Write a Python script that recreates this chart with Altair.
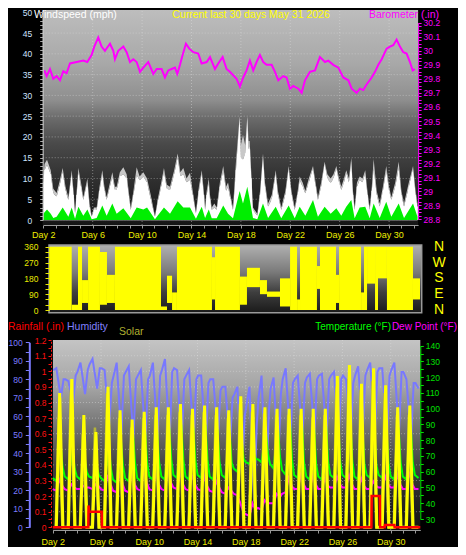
import altair as alt
import pandas as pd

W, H = 450, 539
FONT = "Liberation Sans"

# ------------------------------------------------------------------ data
DAYS = list(range(2, 33))          # day numbers shown on the time axis
DAY_TICKS = list(range(2, 33))

# Panel 1 - windspeed (mph): (day, wind speed, gust)
WIND = [(2.0, 9, 10), (2.1, 12, 13.5), (2.3, 13.3, 14.5), (2.6, 11, 12), (2.81, 6.4, 7.5), (3.08, 5.6, 6.5),
        (3.3, 8, 9), (3.57, 11.7, 12.5), (3.8, 7, 8), (4.03, 4.8, 5.5), (4.3, 11.3, 12), (4.45, 6, 7),
        (4.57, 1.6, 2), (4.7, 6, 7), (4.84, 11.7, 12.5), (5.05, 8, 9), (5.24, 4.8, 5.5), (5.57, 9.3, 10),
        (5.75, 3, 4), (5.92, 0.8, 1), (6.1, 2.4, 3), (6.32, 2.4, 3), (6.55, 7, 8), (6.78, 11.3, 12),
        (6.95, 7, 8), (7.13, 4.8, 5.5), (7.59, 10.5, 11.5), (7.8, 7.2, 8), (7.94, 7.2, 8), (8.2, 10.5, 11.5),
        (8.48, 11, 12.7), (8.75, 10, 11), (9.08, 2.4, 3), (9.3, 6, 7), (9.56, 10.9, 12.7), (9.8, 9.5, 10.5),
        (10.1, 10.5, 11.5), (10.4, 9, 10), (10.7, 5, 6), (11.04, 0.8, 1), (11.3, 4.8, 5.5), (11.55, 8, 9),
        (11.77, 11.7, 12.5), (12.0, 7.5, 8.5), (12.26, 7.2, 8), (12.6, 11, 12), (12.88, 15, 16),
        (13.1, 10.5, 11.5), (13.34, 11, 12.5), (13.6, 9, 10), (13.88, 9.7, 11.4), (14.1, 6, 7), (14.36, 1.6, 2),
        (14.6, 7, 8), (14.83, 11.3, 12), (15.0, 6, 7), (15.1, 2.4, 3), (15.23, 6, 7), (15.4, 9, 10),
        (15.5, 5, 6), (15.64, 2.4, 3), (15.85, 3, 4), (16.04, 2.4, 3), (16.3, 8, 9), (16.57, 12, 13),
        (16.8, 7, 8), (16.96, 8, 9), (17.15, 5, 6), (17.36, 2.4, 3), (17.6, 12, 14), (17.9, 25, 25),
        (18.0, 15, 18), (18.17, 14.5, 20.5), (18.35, 16, 18), (18.52, 25, 25), (18.62, 17, 19), (18.71, 18, 19),
        (18.85, 10, 11), (18.98, 2.4, 3), (19.33, 1, 1.5), (19.55, 6, 7), (19.79, 15.7, 16), (19.95, 8, 9),
        (20.2, 3.2, 4), (20.5, 5, 6), (20.82, 11.3, 12), (21.0, 6, 7), (21.27, 2.4, 3), (21.6, 6, 7),
        (21.87, 12.5, 13), (22.1, 6, 7), (22.36, 2.4, 3), (22.6, 6, 7), (22.76, 9.7, 10.5), (23.0, 8, 9),
        (23.22, 6.4, 7), (23.5, 9, 10), (23.84, 12.5, 13), (24.05, 8, 9), (24.24, 4.8, 5.5), (24.5, 8, 9),
        (24.78, 13.7, 14), (25.0, 10, 11), (25.27, 8.9, 10), (25.5, 10, 11), (25.73, 12.5, 13), (25.95, 9, 10),
        (26.13, 7.2, 8), (26.35, 9, 10), (26.53, 11.3, 12), (26.75, 9, 10), (26.94, 14.5, 15), (27.08, 6, 7),
        (27.21, 2.4, 3), (27.4, 8, 9), (27.62, 9.7, 10.5), (27.85, 9, 10), (28.07, 11.3, 12), (28.25, 6, 7),
        (28.43, 2.4, 3), (28.6, 7, 8), (28.75, 12.5, 14.7), (29.0, 6, 7), (29.24, 3.2, 4), (29.5, 7, 8),
        (29.77, 12, 13), (30.0, 7, 8), (30.18, 4.8, 5.5), (30.5, 8, 9), (30.78, 12.5, 14), (31.0, 6, 7),
        (31.21, 3.2, 4), (31.6, 8, 9), (31.94, 12.5, 13), (32.15, 6, 7), (32.3, 3.2, 4)]

# Panel 1 - average windspeed (mph): (day, value)
AVG = [(2.0, 1.5), (2.3, 2.5), (2.6, 1.5), (2.81, 0.5), (3.08, 0.8), (3.57, 3.0), (4.03, 0.8), (4.3, 3.0),
       (4.57, 0.3), (4.84, 3.2), (5.24, 1.0), (5.57, 2.5), (5.92, 0.2), (6.32, 0.5), (6.78, 3.5), (7.13, 1.0),
       (7.59, 4.0), (7.94, 1.5), (8.48, 2.8), (9.08, 0.4), (9.56, 3.0), (10.1, 2.5), (10.4, 3.0), (11.04, 0.2),
       (11.77, 3.0), (12.26, 1.5), (12.88, 4.5), (13.34, 3.0), (13.88, 3.0), (14.36, 0.3), (14.83, 3.2),
       (15.1, 0.5), (15.4, 2.5), (15.64, 0.4), (16.04, 0.4), (16.57, 3.5), (16.96, 1.5), (17.36, 0.4),
       (17.9, 7.0), (18.17, 4.0), (18.52, 8.0), (18.71, 5.0), (18.98, 0.5), (19.33, 0.2), (19.79, 4.0),
       (20.2, 0.5), (20.82, 3.2), (21.27, 0.4), (21.87, 3.5), (22.36, 0.4), (22.76, 3.2), (23.22, 1.0),
       (23.84, 4.8), (24.24, 0.8), (24.78, 3.2), (25.27, 1.5), (25.73, 2.8), (26.13, 1.0), (26.53, 3.2),
       (26.94, 4.8), (27.21, 0.4), (27.62, 3.0), (28.07, 3.2), (28.43, 0.4), (28.75, 4.0), (29.24, 0.5),
       (29.77, 4.4), (30.18, 0.8), (30.78, 4.0), (31.21, 0.5), (31.94, 4.0), (32.3, 0.8)]

# Barometer (in): (day, value)
BARO = [(2.08, 29.86), (2.27, 29.82), (2.54, 29.87), (2.81, 29.80), (3.08, 29.82), (3.35, 29.79), (3.62, 29.855),
        (3.89, 29.84), (4.16, 29.91), (4.70, 29.92), (5.24, 29.93), (5.56, 29.92), (5.91, 29.97), (6.13, 30.03),
        (6.45, 30.095), (6.72, 30.03), (6.99, 30.00), (7.40, 30.05), (7.67, 30.00), (7.80, 29.94), (8.07, 30.00),
        (8.48, 30.03), (8.75, 29.99), (9.02, 29.92), (9.29, 29.94), (9.56, 29.92), (9.83, 29.85), (10.10, 29.88),
        (10.50, 29.92), (10.91, 29.835), (11.18, 29.87), (11.58, 29.87), (11.85, 29.81), (12.12, 29.86),
        (12.39, 29.87), (12.66, 29.88), (12.85, 29.835), (13.07, 29.90), (13.28, 29.97), (13.55, 30.05),
        (13.82, 30.015), (14.15, 29.99), (14.55, 29.98), (14.82, 29.91), (15.23, 29.92), (15.50, 29.955),
        (15.90, 29.87), (16.17, 29.91), (16.52, 29.955), (16.84, 29.87), (17.11, 29.85), (17.65, 29.80),
        (17.92, 29.745), (18.19, 29.81), (18.46, 29.86), (18.73, 29.93), (19.00, 29.86), (19.27, 29.92),
        (19.54, 29.97), (19.81, 29.92), (20.08, 29.90), (20.49, 29.90), (20.76, 29.85), (21.03, 29.79),
        (21.43, 29.82), (21.70, 29.81), (21.97, 29.73), (22.24, 29.75), (22.65, 29.73), (22.92, 29.70),
        (23.19, 29.79), (23.59, 29.85), (24.00, 29.86), (24.40, 29.955), (24.81, 29.92), (25.08, 29.93),
        (25.48, 29.90), (25.89, 29.88), (26.29, 29.81), (26.70, 29.79), (26.97, 29.73), (27.37, 29.70),
        (27.64, 29.73), (27.91, 29.72), (28.18, 29.76), (28.59, 29.81), (28.86, 29.85), (29.13, 29.90),
        (29.40, 29.94), (29.80, 30.015), (30.07, 30.03), (30.34, 30.04), (30.61, 30.08), (30.88, 30.03),
        (31.15, 29.99), (31.42, 29.98), (31.69, 29.92), (31.91, 29.86), (32.09, 29.87)]

# Panel 2 - wind direction (deg): (from day, to day, low, high)
DIR = [(2.08, 3.85, 0, 360), (3.85, 4.36, 0, 30), (4.36, 4.69, 0, 360), (4.69, 5.18, 40, 170),
       (5.18, 6.15, 0, 360), (6.15, 6.72, 30, 330), (6.72, 7.37, 40, 200), (7.37, 11.12, 0, 360),
       (11.12, 11.61, 0, 20), (11.61, 12.02, 40, 195), (12.02, 12.42, 0, 100), (12.42, 15.27, 0, 360),
       (15.27, 15.52, 60, 300), (15.52, 17.55, 0, 360), (17.55, 18.12, 30, 190), (18.12, 19.18, 130, 240),
       (19.18, 19.75, 90, 170), (19.75, 20.81, 75, 105), (20.81, 21.63, 20, 180), (21.63, 22.2, 0, 360),
       (22.2, 22.44, 0, 60), (22.44, 23.82, 0, 360), (23.82, 24.07, 120, 250), (24.07, 25.37, 0, 360),
       (25.37, 25.62, 40, 200), (25.62, 27.41, 0, 360), (27.41, 27.65, 0, 100), (27.65, 27.9, 0, 360),
       (27.9, 28.55, 150, 360), (28.55, 28.79, 0, 360), (28.79, 29.52, 180, 360), (29.52, 31.64, 0, 360),
       (31.64, 32.21, 60, 180)]
DIR_TICKS = [360, 270, 180, 90, 0]
DIR_LETTERS = ["N", "W", "S", "E", "N"]

# Panel 3 - temperature / dew point (F), humidity (%), solar, rainfall (in), sampled at fractions of each day
TEMP_HOURS = [0.0, 0.3, 0.65, 0.82]
TEMP_MID = [56, 57, 57, 57, 56, 55, 56, 56, 57, 57, 58, 57, 58, 57, 58, 62, 66, 68, 65, 61, 58, 57, 57, 58, 58, 57, 58, 58, 57, 57, 58]
TEMP_LO = [54, 55, 55, 56, 54, 53, 54, 54, 55, 55, 56, 55, 56, 55, 56, 60, 65, 66, 62, 58, 56, 55, 55, 56, 56, 55, 56, 56, 55, 55, 56]
TEMP_HI = [78, 74, 68, 64, 76, 80, 84, 86, 85, 88, 90, 88, 90, 87, 85, 80, 72, 86, 90, 92, 90, 88, 89, 90, 92, 88, 84, 86, 88, 90, 88]
TEMP_EVE = [63, 62, 60, 58, 62, 64, 66, 66, 66, 68, 68, 67, 68, 66, 66, 68, 68, 72, 70, 68, 66, 65, 66, 66, 67, 65, 64, 65, 66, 66, 66]

DEW_HOURS = [0.0, 0.3, 0.55, 0.8]
DEW_MID = [49, 49, 49, 50, 49, 48, 48, 49, 49, 49, 50, 49, 49, 48, 47, 46, 33, 37, 40, 46, 49, 49, 49, 50, 50, 49, 49, 50, 50, 49, 49]
DEW_LO = [48, 48, 49, 49, 48, 47, 47, 48, 48, 48, 49, 48, 48, 47, 46, 45, 32, 36, 40, 47, 49, 49, 49, 50, 50, 49, 49, 50, 50, 49, 49]
DEW_HI = [55, 52, 51, 52, 58, 60, 60, 62, 60, 62, 60, 58, 57, 54, 50, 40, 40, 42, 46, 56, 58, 58, 56, 57, 58, 56, 54, 57, 58, 60, 58]
DEW_EVE = [51, 50, 50, 51, 52, 52, 52, 53, 52, 53, 52, 52, 51, 50, 48, 34, 36, 40, 44, 51, 52, 52, 51, 52, 52, 51, 51, 52, 52, 52, 52]

HUM_HOURS = [0.05, 0.3, 0.68, 0.9]
HUM_MID = [85, 80, 84, 88, 86, 82, 84, 82, 82, 85, 86, 82, 82, 80, 76, 72, 66, 70, 75, 80, 80, 81, 82, 82, 82, 82, 85, 86, 85, 84, 78]
HUM_MAX = [86, 79, 89, 91, 85, 89, 87, 85, 89, 91, 85, 85, 82, 80, 76, 76, 76, 82, 81, 86, 82, 83, 83, 84, 80, 87, 89, 86, 89, 80, 75]
HUM_MIN = [70, 66, 72, 75, 55, 50, 48, 47, 48, 46, 45, 47, 46, 48, 45, 28, 14, 20, 35, 46, 48, 50, 48, 47, 50, 52, 50, 48, 50, 47, 50]
HUM_EVE = [80, 82, 85, 86, 78, 82, 80, 80, 82, 84, 80, 80, 78, 74, 70, 60, 55, 62, 72, 78, 78, 80, 80, 80, 78, 82, 84, 82, 84, 78, 76]

SOLAR_DARK = 0
SOLAR_HOURS = [0.3, 0.58, 0.85]
SOLAR_PEAK = [860, 950, 720, 610, 900, 750, 690, 740, 770, 770, 790, 760, 780, 770, 750, 840, 790, 770, 760, 760,
              760, 760, 760, 970, 1040, 920, 1020, 910, 770, 780, 0]
SOLAR2_HOURS = [0.25, 0.5, 0.8]
SOLAR2_PEAK = [700, 880, 600, 640, 860, 700, 640, 700, 720, 720, 740, 720, 740, 720, 700, 790, 740, 730, 720, 720,
               720, 700, 720, 900, 950, 880, 940, 860, 720, 720, 0]

RAIN = [(2.0, 0), (4.95, 0), (4.97, 0.14), (5.02, 0.10), (6.06, 0.10), (6.08, 0), (28.4, 0), (28.42, 0.2),
        (29.1, 0.2), (29.12, 0), (29.5, 0), (29.52, 0.015), (30.3, 0.015), (30.32, 0), (32.45, 0)]

END3 = 32.42
CALM = 0   # wind speed baseline


def per_day(hours, series, end):
    rows = []
    for i, d in enumerate(DAYS):
        for h, s in zip(hours, series):
            t = round(d + h, 3)
            if t <= end:
                rows.append({"t": t, "v": s[i] if isinstance(s, list) else s})
    return pd.DataFrame(rows)


speed_df = pd.DataFrame([{"t": t, "lo": CALM, "hi": v} for t, v, g in WIND])
gust_df = pd.DataFrame([{"t": t, "lo": v, "hi": g} for t, v, g in WIND])
# solid core under the speed envelope: one block per pair of successive readings
core_df = pd.DataFrame([{"t0": a[0], "t1": b[0], "lo": CALM, "hi": min(a[1], b[1])}
                        for a, b in zip(WIND[:-1], WIND[1:])])
avg_df = pd.DataFrame([{"t": t, "lo": CALM, "hi": v} for t, v in AVG])
baro_df = pd.DataFrame(BARO, columns=["t", "v"])
dir_df = pd.DataFrame(DIR, columns=["t0", "t1", "lo", "hi"])
temp_df = per_day(TEMP_HOURS, [TEMP_MID, TEMP_LO, TEMP_HI, TEMP_EVE], END3)
dew_df = per_day(DEW_HOURS, [DEW_MID, DEW_LO, DEW_HI, DEW_EVE], END3)
hum_df = per_day(HUM_HOURS, [HUM_MID, HUM_MAX, HUM_MIN, HUM_EVE], END3)
sol_df = per_day(SOLAR_HOURS, [SOLAR_DARK, SOLAR_PEAK, SOLAR_DARK], END3)
sol2_df = per_day(SOLAR2_HOURS, [SOLAR_DARK, SOLAR2_PEAK, SOLAR_DARK], END3)
rain_df = pd.DataFrame(RAIN, columns=["t", "v"])


# ------------------------------------------------------------------ scales
def sc(domain, rng):
    return alt.Scale(domain=domain, range=rng, nice=False, zero=False)


X1 = lambda: sc([2, 32.35], [35.3, 410.1])
Y_WIND = lambda: sc([0, 50], [212, 4.3])
Y_BARO = lambda: sc([28.8, 30.2], [211.3, 14.7])
X2 = lambda: sc([2, 32.35], [41, 413.7])
Y_DIR = lambda: sc([0, 360], [302, 238.7])
X3 = lambda: sc([2, 32.45], [44.7, 412.3])
Y_HUM = lambda: sc([0, 100], [519.3, 334.3])
Y_RAIN = lambda: sc([0, 1.2], [519.3, 332.1])
Y_TEMP = lambda: sc([30, 140], [511, 337.7])
Y_SOL = lambda: sc([0, 1000], [519.3, 363.3])


def axis(orient, pos, values, expr, color, tick=None, dom=None, size=3, pad=2, fs=8.5, **kw):
    if orient == "left":
        off = -pos
    elif orient == "right":
        off = pos - W
    else:
        off = pos - H
    return alt.Axis(orient=orient, offset=off, values=values, labelExpr=expr, labelColor=color,
                    tickColor=tick or color, domainColor=dom or color, tickSize=size, labelPadding=pad,
                    grid=False, title=None, labelOverlap=False, labelFlush=False, labelFont=FONT,
                    labelFontSize=fs, zindex=1, **kw)


DAY_EXPR = "(datum.value - 2) % 4 == 0 ? 'Day ' + datum.value : ''"


def grad(stops):
    return alt.Gradient(gradient="linear", x1=0, x2=0, y1=0, y2=1,
                        stops=[alt.GradientStop(color=c, offset=o) for o, c in stops])


def background(x0, x1, y0, y1, xs, ys, stops, **kw):
    df = pd.DataFrame([{"x0": x0, "x1": x1, "y0": y0, "y1": y1}])
    return alt.Chart(df).mark_rect(fill=grad(stops), **kw).encode(
        x=alt.X("x0:Q", scale=xs, axis=None), x2="x1:Q",
        y=alt.Y("y0:Q", scale=ys, axis=None), y2="y1:Q")


def hgrid(vals, x0, x1, xs, ys):
    df = pd.DataFrame({"v": vals, "x0": x0, "x1": x1})
    return alt.Chart(df).mark_rule(color="#e0e0e0", strokeDash=[1, 2], opacity=0.45).encode(
        y=alt.Y("v:Q", scale=ys, axis=None), x=alt.X("x0:Q", scale=xs, axis=None), x2="x1:Q")


def vgrid(vals, y0, y1, xs, ys):
    df = pd.DataFrame({"d": vals, "y0": y0, "y1": y1})
    return alt.Chart(df).mark_rule(color="#e0e0e0", strokeDash=[1, 2], opacity=0.45).encode(
        x=alt.X("d:Q", scale=xs, axis=None), y=alt.Y("y0:Q", scale=ys, axis=None), y2="y1:Q")


def band(df, color, xs, ys, xaxis=None, yaxis=None):
    return alt.Chart(df).mark_area(fill=color, fillOpacity=1, opacity=1, orient="vertical",
                                   interpolate="linear").encode(
        x=alt.X("t:Q", scale=xs, axis=xaxis),
        y=alt.Y("hi:Q", scale=ys, axis=yaxis, stack=None),
        y2="lo:Q")


GRID_DAYS = [6, 10, 14, 18, 22, 26, 30]
layers = []

# ------------------------------------------------------------------ panel 1
layers.append(background(1.95, 32.35, -1.2, 50.55, X1(), Y_WIND(),
                         [(0, "#bdbdbd"), (0.25, "#a8a8a8"), (0.42, "#8e8e8e"), (0.5, "#6c6c6c"),
                          (0.62, "#4a4a4a"), (0.8, "#2e2e2e"), (1, "#151515")]))
layers.append(hgrid([5, 10, 15, 20, 25, 30, 35, 40, 45], 1.95, 32.35, X1(), Y_WIND()))
layers.append(vgrid(GRID_DAYS, -1.2, 50.55, X1(), Y_WIND()))
layers.append(band(gust_df, "#c8c8c8", X1(), Y_WIND()))
layers.append(band(speed_df, "#ffffff", X1(), Y_WIND(),
                   xaxis=axis("bottom", 217, DAY_TICKS, DAY_EXPR, "#eeee00", tick="#9a9a9a", dom="#9a9a9a",
                              pad=2, fs=9),
                   yaxis=axis("left", 34.7, list(range(0, 51)), "datum.value % 5 == 0 ? '' + datum.value : ''",
                              "#d0e4ff", tick="#a8a8a8", dom="#c8c8c8", size=3, pad=8)))
layers.append(alt.Chart(core_df).mark_rect(color="#ffffff", opacity=1, stroke="#ffffff", strokeWidth=0.6).encode(
    x=alt.X("t0:Q", scale=X1(), axis=None), x2="t1:Q",
    y=alt.Y("hi:Q", scale=Y_WIND(), axis=None), y2="lo:Q"))
layers.append(band(avg_df, "#00ee00", X1(), Y_WIND()))
BARO_TICKS = [round(28.8 + 0.025 * i, 3) for i in range(57)]
layers.append(alt.Chart(baro_df).mark_line(color="#ff00ff", strokeWidth=2).encode(
    x=alt.X("t:Q", scale=X1(), axis=None),
    y=alt.Y("v:Q", scale=Y_BARO(),
            axis=axis("right", 410.1, BARO_TICKS,
                      "round(datum.value * 40) % 4 == 0 ? format(datum.value, '.1~f') : ''", "#ff00ff",
                      size=3, pad=2))))

# ------------------------------------------------------------------ panel 2
layers.append(background(2, 32.35, -15.4, 369.7, X2(), Y_DIR(),
                         [(0, "#b0b0b0"), (0.4, "#7a7a7a"), (0.7, "#3e3e3e"), (1, "#1a1a1a")],
                         stroke="#9a9a9a", strokeWidth=1.5))
layers.append(alt.Chart(dir_df).mark_rect(color="#ffff00").encode(
    x=alt.X("t0:Q", scale=X2(), axis=None), x2="t1:Q",
    y=alt.Y("lo:Q", scale=Y_DIR(),
            axis=axis("left", 41, list(range(0, 361, 30)), "datum.value % 90 == 0 ? '' + datum.value : ''",
                      "#e8e800", size=4, pad=7)),
    y2="hi:Q"))
layers.append(alt.Chart(pd.DataFrame({"d": DIR_TICKS, "t": DIR_LETTERS})).mark_text(
    color="#ffff00", font=FONT, fontSize=14, align="center", baseline="middle").encode(
    x=alt.value(431), y=alt.Y("d:Q", scale=Y_DIR(), axis=None), text="t:N"))

# ------------------------------------------------------------------ panel 3
layers.append(background(2.02, 32.45, -1.46, 101.2, X3(), Y_HUM(),
                         [(0, "#c4c4c4"), (0.25, "#a4a4a4"), (0.45, "#747474"), (0.65, "#444444"),
                          (0.85, "#242424"), (1, "#141414")]))
layers.append(hgrid([0.1 * i for i in range(1, 12)], 2.02, 32.45, X3(), Y_RAIN()))
layers.append(vgrid(GRID_DAYS, -1.46, 101.2, X3(), Y_HUM()))
layers.append(alt.Chart(hum_df).mark_line(color="#7878ff", strokeWidth=2).encode(
    x=alt.X("t:Q", scale=X3(), axis=None),
    y=alt.Y("v:Q", scale=Y_HUM(),
            axis=axis("left", 21.3, list(range(0, 101, 5)), "datum.value % 10 == 0 ? '' + datum.value : ''",
                      "#7c7cff", size=4, pad=3, domainWidth=2))))
layers.append(alt.Chart(temp_df).mark_line(color="#00ff00", strokeWidth=2).encode(
    x=alt.X("t:Q", scale=X3(),
            axis=axis("bottom", 522, DAY_TICKS, DAY_EXPR, "#eeee00", tick="#9a9a9a", dom="#9a9a9a", pad=4, fs=9)),
    y=alt.Y("v:Q", scale=Y_TEMP(),
            axis=axis("right", 412.3, list(range(30, 141, 5)), "datum.value % 10 == 0 ? '' + datum.value : ''",
                      "#00e000", size=3, pad=2))))
layers.append(alt.Chart(dew_df).mark_line(color="#ff00ff", strokeWidth=2).encode(
    x=alt.X("t:Q", scale=X3(), axis=None), y=alt.Y("v:Q", scale=Y_TEMP(), axis=None)))
layers.append(alt.Chart(sol2_df).mark_line(color="#b4b436", strokeWidth=2.5).encode(
    x=alt.X("t:Q", scale=X3(), axis=None), y=alt.Y("v:Q", scale=Y_SOL(), axis=None)))
layers.append(alt.Chart(sol_df).mark_line(color="#ffff00", strokeWidth=3).encode(
    x=alt.X("t:Q", scale=X3(), axis=None), y=alt.Y("v:Q", scale=Y_SOL(), axis=None)))
RAIN_TICKS = [round(0.05 * i, 2) for i in range(25)]
layers.append(alt.Chart(rain_df).mark_line(color="#ff0000", strokeWidth=2.5).encode(
    x=alt.X("t:Q", scale=X3(), axis=None),
    y=alt.Y("v:Q", scale=Y_RAIN(),
            axis=axis("left", 43, RAIN_TICKS,
                      "round(datum.value * 20) % 2 == 0 ? format(datum.value, '.1~f') : ''", "#ff1010",
                      size=3, pad=2, domainDash=[2, 2]))))

# ------------------------------------------------------------------ titles
TITLES = [
    ("Windspeed (mph)", "#ffffff", "left", 26, 6.5, 10.5),
    ("Current last 30 days May 31 2026", "#ffff00", "center", 243, 6.5, 10.5),
    ("Barometer (.in)", "#ff00ff", "right", 431, 6.5, 10.5),
    ("Rainfall (.in)", "#ff0000", "left", 0, 318.7, 10.5),
    ("Humidity", "#8080ff", "left", 59, 318.7, 10.5),
    ("Solar", "#b0b030", "left", 111, 324, 10.5),
    ("Temperature (°F)", "#00ff00", "right", 383, 318.7, 10),
    ("Dew Point (°F)", "#ff00ff", "right", 449, 318.7, 10),
]
for txt, col, al, x, y, fs in TITLES:
    layers.append(alt.Chart(pd.DataFrame({"t": [txt]})).mark_text(
        color=col, font=FONT, fontSize=fs, align=al, baseline="middle").encode(
        x=alt.value(x), y=alt.value(y), text="t:N"))

chart = alt.layer(*layers).resolve_scale(x="independent", y="independent").properties(
    width=W, height=H, background="black", padding=0,
    autosize=alt.AutoSizeParams(type="none")
).configure_view(stroke=None)

chart.save("out.html", embed_options={"renderer": "svg", "actions": False})
